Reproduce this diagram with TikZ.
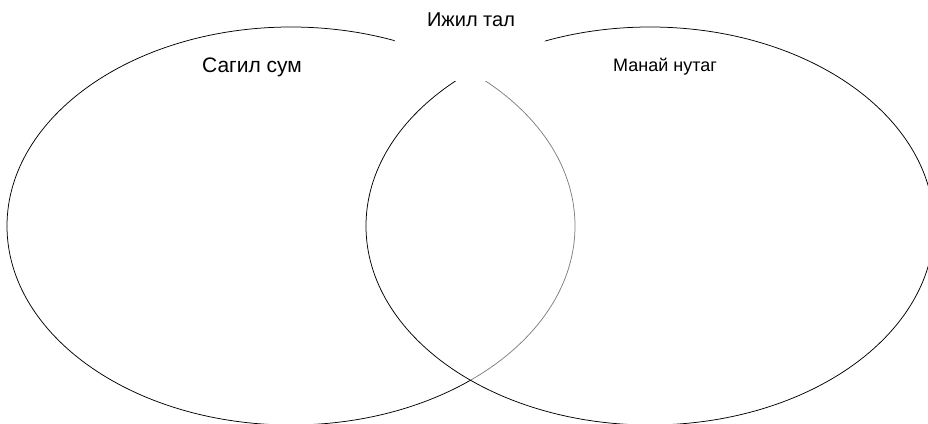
\documentclass[tikz,border=0pt]{standalone}
\usepackage{fontspec}
\setmainfont{Liberation Sans}
\usepackage{tikz}
\usetikzlibrary{shapes.geometric, positioning}

\tikzset{
  venn/.style={line width=0.75pt, black},
  setlabel/.style={anchor=base, inner sep=0pt, font=\fontsize{20}{24}\selectfont},
}

\begin{document}
\begin{tikzpicture}[x=1pt, y=-1pt]
% Canvas
\useasboundingbox (0,0) rectangle (928,423);
\clip (0,0) rectangle (928,423);
\def\rx{284}
\def\ry{199}

% Sets
\draw[venn] (291,226) ellipse [x radius=\rx, y radius=\ry];
\draw[venn, fill=white, fill opacity=0.5] (650,226) ellipse [x radius=\rx, y radius=\ry];

% Common part label
\node[ellipse, fill=white, minimum width=160pt, minimum height=126pt, inner sep=0pt] (ijil) at (470,19) {};
\node[setlabel] (ijiltal) at (471,26.7) {Ижил тал};

% Set labels
\node[setlabel, font=\fontsize{21}{25}\selectfont] (sagil) at (252,72) {Сагил сум};
\node[setlabel, font=\fontsize{18}{22}\selectfont] (manai) at (665,71) {Манай нутаг};
\end{tikzpicture}
\end{document}
